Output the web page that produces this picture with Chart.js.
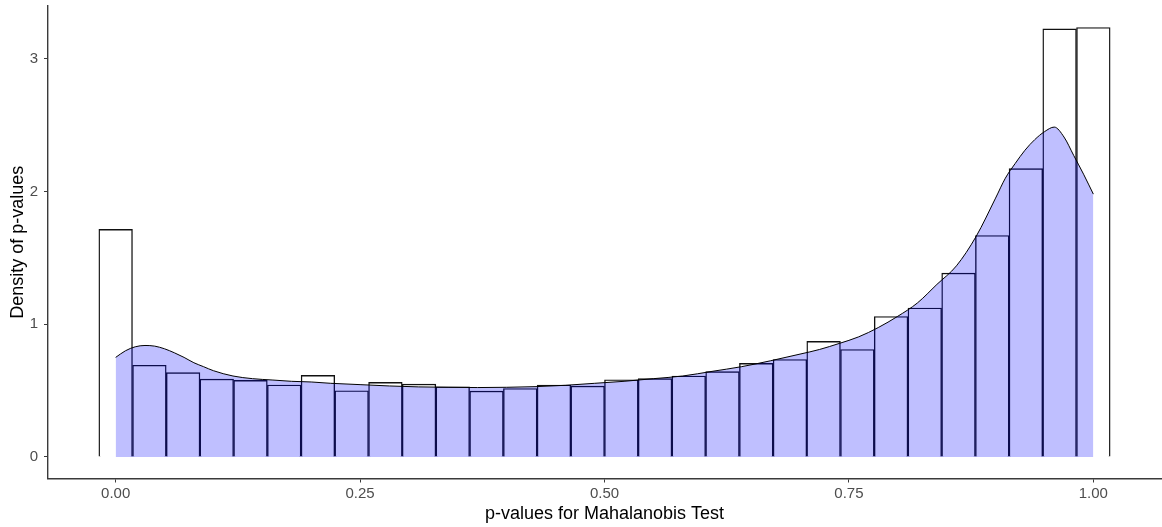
<!DOCTYPE html>
<html>
<head>
<meta charset="utf-8">
<script src="https://cdn.jsdelivr.net/npm/chart.js@4"></script>
<style>
  html, body { margin: 0; padding: 0; background: #fff; }
  #wrap { width: 1162px; height: 527px; position: relative; }
</style>
</head>
<body>
<div id="wrap"><canvas id="histChart"></canvas></div>
<script>
// histogram bins (centres) and their density heights
const binCenters = [0, 0.0345, 0.0690, 0.1034, 0.1379, 0.1724, 0.2069, 0.2414, 0.2759, 0.3103,
  0.3448, 0.3793, 0.4138, 0.4483, 0.4828, 0.5172, 0.5517, 0.5862, 0.6207, 0.6552,
  0.6897, 0.7241, 0.7586, 0.7931, 0.8276, 0.8621, 0.8966, 0.9310, 0.9655, 1.0000];
const binDensity = [1.714, 0.691, 0.635, 0.587, 0.577, 0.542, 0.615, 0.499, 0.562, 0.549,
  0.529, 0.496, 0.516, 0.542, 0.534, 0.582, 0.590, 0.610, 0.643, 0.705,
  0.734, 0.871, 0.810, 1.058, 1.122, 1.385, 1.668, 2.172, 3.225, 3.235];

// kernel density curve
const densityX = [0, 0.01, 0.02, 0.03, 0.04, 0.05, 0.06, 0.07, 0.08, 0.09, 0.10, 0.12, 0.14, 0.16,
  0.18, 0.20, 0.22, 0.25, 0.28, 0.31, 0.34, 0.37, 0.40, 0.43, 0.46, 0.49, 0.52, 0.55, 0.58,
  0.61, 0.64, 0.67, 0.70, 0.72, 0.74, 0.76, 0.78, 0.80, 0.82, 0.84, 0.86, 0.88, 0.90, 0.91,
  0.92, 0.93, 0.94, 0.95, 0.96, 0.97, 0.98, 0.99, 1.00];
const densityY = [0.75, 0.80, 0.83, 0.84, 0.835, 0.815, 0.785, 0.75, 0.71, 0.68, 0.65, 0.61, 0.59, 0.58,
  0.57, 0.565, 0.555, 0.545, 0.535, 0.528, 0.525, 0.523, 0.525, 0.53, 0.54, 0.555, 0.57, 0.59, 0.61,
  0.645, 0.68, 0.725, 0.775, 0.81, 0.855, 0.905, 0.975, 1.06, 1.16, 1.30, 1.44, 1.66, 1.95, 2.10,
  2.21, 2.31, 2.39, 2.45, 2.485, 2.41, 2.27, 2.13, 1.98];

const xTicks = [0, 0.25, 0.5, 0.75, 1];
const yTicks = [0, 1, 2, 3];

const tickColor = '#4d4d4d';
const axisColor = '#3a3a3a';
const font = '"Liberation Sans", Arial, sans-serif';

new Chart(document.getElementById('histChart').getContext('2d'), {
  data: {
    datasets: [
      {
        type: 'line',
        order: 1,
        data: densityX.map((x, i) => ({ x: x, y: densityY[i] })),
        borderColor: '#000',
        borderWidth: 1,
        backgroundColor: 'rgba(0, 0, 255, 0.25)',
        fill: 'origin',
        pointRadius: 0,
        cubicInterpolationMode: 'monotone'
      },
      {
        type: 'bar',
        order: 2,
        data: binCenters.map((x, i) => ({ x: x, y: binDensity[i] })),
        backgroundColor: '#ffffff',
        borderColor: '#111',
        borderWidth: 1.4,
        barPercentage: 1,
        categoryPercentage: 1,
        grouped: false
      }
    ]
  },
  options: {
    responsive: true,
    maintainAspectRatio: false,
    animation: false,
    layout: { padding: { left: 0, right: 1, top: 6, bottom: 0 } },
    plugins: { legend: { display: false }, tooltip: { enabled: false } },
    scales: {
      x: {
        type: 'linear',
        offset: false,
        min: -0.0692,
        max: 1.0692,
        afterBuildTicks: s => { s.ticks = xTicks.map(v => ({ value: v })); },
        afterFit: s => { s.height = 48.5; s.paddingLeft = 0; s.paddingRight = 0; },
        border: { display: true, color: axisColor, width: 1.4 },
        grid: { display: true, offset: false, drawOnChartArea: false, drawTicks: true, tickLength: 4, color: axisColor },
        ticks: {
          color: tickColor,
          font: { family: font, size: 15 },
          padding: 2,
          maxRotation: 0,
          callback: v => v.toFixed(2)
        },
        title: {
          display: true,
          text: 'p-values for Mahalanobis Test',
          color: '#000',
          font: { family: font, size: 18 },
          padding: { top: 0, bottom: 2 }
        }
      },
      y: {
        type: 'linear',
        min: -0.162,
        max: 3.397,
        afterBuildTicks: s => { s.ticks = yTicks.map(v => ({ value: v })); },
        afterFit: s => { s.width = 48; s.paddingTop = 0; s.paddingBottom = 0; },
        border: { display: true, color: axisColor, width: 1.4 },
        grid: { display: true, drawOnChartArea: false, drawTicks: true, tickLength: 4, color: axisColor },
        ticks: {
          color: tickColor,
          font: { family: font, size: 15 },
          padding: 6
        },
        title: {
          display: true,
          text: 'Density of p-values',
          color: '#000',
          font: { family: font, size: 18 },
          padding: { top: 7, bottom: 0 }
        }
      }
    }
  }
});
</script>
</body>
</html>
